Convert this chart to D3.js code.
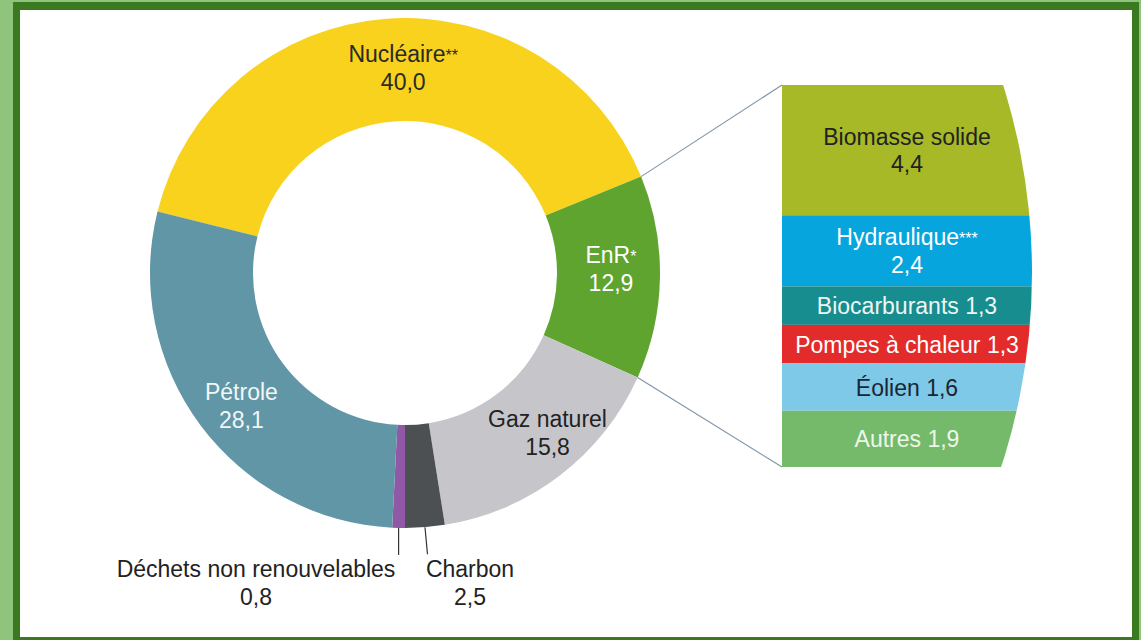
<!DOCTYPE html>
<html>
<head>
<meta charset="utf-8">
<script src="https://cdn.jsdelivr.net/npm/d3@7"></script>
<style>
  html, body { margin: 0; padding: 0; background: #8fc47c; }
  text { font-family: "Liberation Sans", Arial, Helvetica, sans-serif; }
</style>
</head>
<body>
<div id="chart-container"></div>
<script>
// energy mix (donut), in %
const mixLabels = ["Nucléaire**", "EnR*", "Gaz naturel", "Charbon", "Déchets non renouvelables", "Pétrole"]
const mixValues = [40.0, 12.9, 15.8, 2.5, 0.8, 28.1]
const mixColors = ["#f8d21c", "#5ea42f", "#c6c6ca", "#4c5053", "#9059a8", "#6096a6"]
const mixTextColors = ["#2a2a2a", "#ffffff", "#222222", "#222", "#222", "#f2f6f8"]

// detail of renewables (bar on the right)
const enrLabels = ["Biomasse solide", "Hydraulique***", "Biocarburants", "Pompes à chaleur", "Éolien", "Autres"]
const enrValues = [4.4, 2.4, 1.3, 1.3, 1.6, 1.9]
const enrColors = ["#a7b927", "#07a5de", "#178d8f", "#e22b2a", "#7fc9e8", "#74ba6a"]
const enrTextColors = ["#222222", "#ffffff", "#eef6f4", "#ffffff", "#1a2633", "#eef6ea"]
// labels that stay on one line in the bar
const enrOneLine = [false, false, true, true, true, true]

const width = 1141,
      height = 640

const fr = d3.formatLocale({decimal: ",", thousands: " ", grouping: [3], currency: ["", " €"]})
const fmt = fr.format(".1f")

let svg = d3.select("#chart-container").append("svg")
    .attr("width", width)
    .attr("height", height)
    .style("display", "block")

// frame
svg.append("rect").attr("width", width).attr("height", height).attr("fill", "#8fc47c")
svg.append("rect").attr("x", 13).attr("y", 2).attr("width", 1126).attr("height", 640).attr("fill", "#3b7921")
svg.append("rect").attr("x", 20).attr("y", 10).attr("width", 1112).attr("height", 627).attr("fill", "#ffffff")

// writes a label, with the footnote stars drawn small
function starText(sel, label) {
    const m = label.match(/^(.*?)(\*+)$/)
    if (!m) {
        sel.text(label)
        return
    }
    sel.append("tspan").text(m[1])
    sel.append("tspan").attr("font-size", 16).attr("dy", -1).text(m[2])
}

const cx = 405,
      cy = 273,
      rOuter = 255,
      rInner = 152,
      rLabel = 205

// rotate so that Charbon ends straight down
const total = d3.sum(mixValues)
const beforeDechets = d3.sum(mixValues.slice(0, 4))
const start = Math.PI - 2 * Math.PI * beforeDechets / total

const pie = d3.pie().sort(null).value(d => d.value)
    .startAngle(start).endAngle(start + 2 * Math.PI)

const mixData = mixLabels.map((l, i) => ({label: l, value: mixValues[i], color: mixColors[i], text: mixTextColors[i]}))
const arcs = pie(mixData)

const arc = d3.arc().innerRadius(rInner).outerRadius(rOuter)
const labelArc = d3.arc().innerRadius(rLabel).outerRadius(rLabel)

let donut = svg.append("g").attr("transform", `translate(${cx},${cy})`)

donut.selectAll("path")
    .data(arcs)
    .join("path")
    .attr("d", arc)
    .attr("fill", d => d.data.color)

// small tweaks so labels sit like in the original
const labelNudge = {"Nucléaire**": [13, -1], "Gaz naturel": [18, -3], "Pétrole": [1, 10], "EnR*": [1, -8]}

const ringLabels = arcs.filter(d => d.data.value > 5)
let lab = donut.selectAll("g.lab")
    .data(ringLabels)
    .join("g")
    .attr("class", "lab")
    .attr("transform", d => {
        const c = labelArc.centroid(d)
        const n = labelNudge[d.data.label] || [0, 0]
        return `translate(${c[0] + n[0]},${c[1] + n[1]})`
    })
lab.append("text")
    .attr("text-anchor", "middle")
    .attr("y", -5.5)
    .attr("font-size", 23)
    .attr("fill", d => d.data.text)
    .each(function(d) { starText(d3.select(this), d.data.label) })
lab.append("text")
    .attr("text-anchor", "middle")
    .attr("y", 22.5)
    .attr("font-size", 23)
    .attr("fill", d => d.data.text)
    .text(d => fmt(d.data.value))

// thin slices get labels below the ring with a leader line
const smallArcs = arcs.filter(d => d.data.value < 5)
const outsideX = {"Charbon": 470, "Déchets non renouvelables": 256}
smallArcs.forEach(d => {
    const a = (d.startAngle + d.endAngle) / 2
    const x0 = rOuter * Math.sin(a),
          y0 = -rOuter * Math.cos(a)
    donut.append("line")
        .attr("x1", x0).attr("y1", y0)
        .attr("x2", x0 + (d.data.label === "Charbon" ? 2.5 : 0)).attr("y2", y0 + 27)
        .attr("stroke", "#333")
        .attr("stroke-width", 1.2)
    const tx = outsideX[d.data.label] - cx
    donut.append("text")
        .attr("x", tx).attr("y", 577 - cy)
        .attr("text-anchor", "middle")
        .attr("font-size", 23)
        .attr("fill", "#222")
        .text(d.data.label)
    donut.append("text")
        .attr("x", tx).attr("y", 605 - cy)
        .attr("text-anchor", "middle")
        .attr("font-size", 23)
        .attr("fill", "#222")
        .text(fmt(d.data.value))
})

// bar with the renewables split
const barLeft = 782,
      barTop = 85,
      barBottom = 467,
      barRadius = 627

const y = d3.scaleLinear()
    .domain([0, d3.sum(enrValues)])
    .range([barTop, barBottom])

const cum = d3.cumsum(enrValues)
const enrData = enrLabels.map((l, i) => ({
    label: l, value: enrValues[i], color: enrColors[i], text: enrTextColors[i],
    one: enrOneLine[i], y0: cum[i] - enrValues[i], y1: cum[i]
}))

svg.append("defs")
    .append("clipPath")
    .attr("id", "bar-clip")
    .append("circle")
    .attr("cx", cx).attr("cy", cy).attr("r", barRadius)

const barCenter = (barLeft + cx + barRadius) / 2

let bar = svg.append("g").attr("clip-path", "url(#bar-clip)")
bar.selectAll("rect")
    .data(enrData)
    .join("rect")
    .attr("x", barLeft)
    .attr("y", d => y(d.y0))
    .attr("width", cx + barRadius - barLeft + 5)
    .attr("height", d => y(d.y1) - y(d.y0))
    .attr("fill", d => d.color)

let barLab = svg.append("g").selectAll("g")
    .data(enrData)
    .join("g")
    .attr("transform", d => `translate(${barCenter},${(y(d.y0) + y(d.y1)) / 2})`)
barLab.filter(d => d.one).append("text")
    .attr("text-anchor", "middle")
    .attr("y", 8.5)
    .attr("font-size", 23)
    .attr("fill", d => d.text)
    .text(d => d.label + " " + fmt(d.value))
barLab.filter(d => !d.one).append("text")
    .attr("text-anchor", "middle")
    .attr("y", -5.5)
    .attr("font-size", 23)
    .attr("fill", d => d.text)
    .each(function(d) { starText(d3.select(this), d.label) })
barLab.filter(d => !d.one).append("text")
    .attr("text-anchor", "middle")
    .attr("y", 22)
    .attr("font-size", 23)
    .attr("fill", d => d.text)
    .text(d => fmt(d.value))

// connectors from EnR slice edges to the bar
const enrArc = arcs[1]
const edges = [
    [enrArc.startAngle, barTop],
    [enrArc.endAngle, barBottom]
]
svg.append("g").selectAll("line")
    .data(edges)
    .join("line")
    .attr("x1", d => cx + rOuter * Math.sin(d[0]))
    .attr("y1", d => cy - rOuter * Math.cos(d[0]))
    .attr("x2", barLeft)
    .attr("y2", d => d[1])
    .attr("stroke", "#7f93a6")
    .attr("stroke-width", 1.1)
</script>
</body>
</html>
